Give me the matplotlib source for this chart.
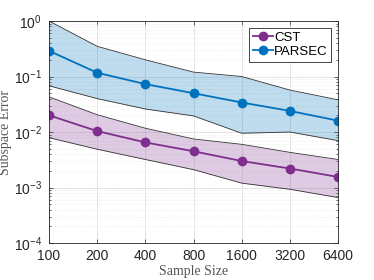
import numpy as np
import matplotlib
matplotlib.use('Agg')
import matplotlib.pyplot as plt

plt.rcParams['font.family'] = ['Liberation Sans', 'DejaVu Sans']
plt.rcParams['mathtext.fontset'] = 'custom'
plt.rcParams['mathtext.rm'] = 'Liberation Sans'

# sample sizes
sizes = [100, 200, 400, 800, 1600, 3200, 6400]
size_labels = ['100', '200', '400', '800', '1600', '3200', '6400']

# CST error: mean, upper, lower
cst_mean  = [0.020, 0.0104, 0.0065, 0.0045, 0.0030, 0.0022, 0.00155]
cst_upper = [0.043, 0.0205, 0.0117, 0.0075, 0.0060, 0.0043, 0.0032]
cst_lower = [0.0079, 0.0049, 0.0032, 0.0021, 0.0012, 0.00093, 0.00066]

# PARSEC error: mean, upper, lower
parsec_mean  = [0.29, 0.117, 0.073, 0.050, 0.034, 0.024, 0.016]
parsec_upper = [1.0, 0.35, 0.20, 0.12, 0.10, 0.057, 0.038]
parsec_lower = [0.068, 0.040, 0.026, 0.0195, 0.0095, 0.0100, 0.0070]

c_cst = '#7E2F8E'
c_par = '#0072BD'

fig = plt.figure(figsize=(3.74, 2.80), dpi=100)
ax = fig.add_axes([0.131, 0.132, 0.773, 0.793])

ax.fill_between(sizes, parsec_lower, parsec_upper, color=c_par, alpha=0.25, lw=0)
ax.plot(sizes, parsec_upper, color='#333333', lw=0.6)
ax.plot(sizes, parsec_lower, color='#333333', lw=0.6)
ax.fill_between(sizes, cst_lower, cst_upper, color=c_cst, alpha=0.25, lw=0)
ax.plot(sizes, cst_upper, color='#333333', lw=0.6)
ax.plot(sizes, cst_lower, color='#333333', lw=0.6)

ax.plot(sizes, cst_mean, '-o', color=c_cst, lw=1.3, ms=6, label='CST')
ax.plot(sizes, parsec_mean, '-o', color=c_par, lw=1.3, ms=6, label='PARSEC')

ax.set_xscale('log')
ax.set_yscale('log')
ax.set_xlim(100, 6400)
ax.set_ylim(1e-4, 1e0)
ax.set_xticks(sizes)
ax.set_xticklabels(size_labels)
ax.xaxis.set_minor_locator(matplotlib.ticker.NullLocator())

ax.grid(True, which='major', color='#e0e0e0', lw=0.6)
ax.grid(True, which='minor', axis='y', color='#e6e6e6', lw=0.5, ls=':')
ax.set_axisbelow(True)

for s in ax.spines.values():
    s.set_color('#262626')
    s.set_linewidth(0.6)
ax.tick_params(which='both', direction='in', top=True, right=True,
               labelsize=10, colors='#262626', length=3, width=0.5)
ax.tick_params(axis='x', pad=4.5)
ax.tick_params(axis='y', pad=5)
ax.tick_params(which='minor', length=1.5)

ax.set_xlabel('Sample Size', family='Liberation Serif', fontsize=10, color='#555555', labelpad=1)
ax.set_ylabel('Subspace Error', family='Liberation Serif', fontsize=10, color='#555555', labelpad=1)

leg = ax.legend(loc='upper right', fontsize=9.5, fancybox=False, framealpha=1,
                edgecolor='#262626', handlelength=1.5, handletextpad=0.1,
                borderpad=0.3, labelspacing=0.15, borderaxespad=0.5)
leg.get_frame().set_linewidth(0.6)

fig.savefig('out.png', dpi=100)
